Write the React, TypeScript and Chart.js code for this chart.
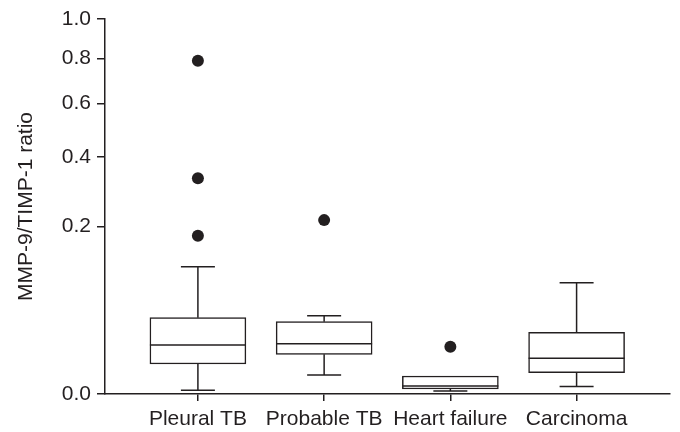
import React, { useEffect, useRef } from "react";
import { Chart, registerables, LinearScale } from "chart.js";

Chart.register(...registerables);

class SqrtScale extends LinearScale {
  static id = "sqrt";
  static defaults = LinearScale.defaults;
  getPixelForValue(value: number) {
    const s = Math.sqrt(Math.max(0, this.min));
    const e = Math.sqrt(Math.max(0, this.max));
    const v = Math.sqrt(Math.max(0, value));
    return this.getPixelForDecimal((v - s) / (e - s));
  }
  getValueForPixel(pixel: number) {
    const s = Math.sqrt(Math.max(0, this.min));
    const e = Math.sqrt(Math.max(0, this.max));
    const v = s + this.getDecimalForPixel(pixel) * (e - s);
    return v * v;
  }
}
Chart.register(SqrtScale as any);

const categories = ["Pleural TB", "Probable TB", "Heart failure", "Carcinoma"];
const whiskerLow = [0.0001, 0.0026, 0.00006, 0.0004];
const q1 = [0.0064, 0.0112, 0.00018, 0.0032];
const median = [0.0171, 0.018, 0.00046, 0.0091];
const q3 = [0.0414, 0.0372, 0.0023, 0.0271];
const whiskerHigh = [0.1152, 0.0436, 0.0023, 0.0881];
const outliersPleuralTB = [0.79, 0.331, 0.178];
const outliersProbableTB = [0.215];
const outliersHeartFailure = [0.0159];
const outliersCarcinoma: number[] = [];
const yTicks = [0, 0.2, 0.4, 0.6, 0.8, 1.0];

const INK = "#231f20";
const FONT = "'Liberation Sans', Arial, sans-serif";

const boxPlugin = {
  id: "boxWhiskers",
  afterDatasetsDraw(chart: any) {
    const xs = chart.scales.x;
    const ys = chart.scales.y;
    const meta = chart.getDatasetMeta(0);
    const ctx = chart.ctx;
    ctx.save();
    ctx.strokeStyle = INK;
    ctx.lineWidth = 1.5;
    const capHalf = 17;
    categories.forEach((_, i) => {
      const cx = xs.getPixelForValue(i + 1);
      const half = meta.data[i] ? meta.data[i].width / 2 : 48;
      const pHi = ys.getPixelForValue(whiskerHigh[i]);
      const pQ3 = ys.getPixelForValue(q3[i]);
      const pQ1 = ys.getPixelForValue(q1[i]);
      const pLo = ys.getPixelForValue(whiskerLow[i]);
      const pMed = ys.getPixelForValue(median[i]);
      ctx.beginPath();
      if (pQ3 - pHi > 0.5) {
        ctx.moveTo(cx, pHi);
        ctx.lineTo(cx, pQ3);
        ctx.moveTo(cx - capHalf, pHi);
        ctx.lineTo(cx + capHalf, pHi);
      }
      ctx.moveTo(cx, pQ1);
      ctx.lineTo(cx, pLo);
      ctx.moveTo(cx - capHalf, pLo);
      ctx.lineTo(cx + capHalf, pLo);
      ctx.moveTo(cx - half, pMed);
      ctx.lineTo(cx + half, pMed);
      ctx.stroke();
    });
    ctx.restore();
  },
};

export default function App() {
  const ref = useRef<HTMLCanvasElement>(null);
  useEffect(() => {
    document.body.style.margin = "0";
    const outliers = [outliersPleuralTB, outliersProbableTB, outliersHeartFailure, outliersCarcinoma];
    const outlierPoints: { x: number; y: number }[] = [];
    outliers.forEach((arr, i) => arr.forEach((v) => outlierPoints.push({ x: i + 1, y: v })));
    const chart = new Chart(ref.current!, {
      type: "bar",
      data: {
        datasets: [
          {
            type: "bar",
            data: categories.map((_, i) => ({ x: i + 1, y: [q1[i], q3[i]] })) as any,
            backgroundColor: "#ffffff",
            borderColor: INK,
            borderWidth: 1.5,
            borderSkipped: false,
            barThickness: 96,
          } as any,
          {
            type: "scatter",
            data: outlierPoints,
            pointRadius: 6,
            pointBackgroundColor: INK,
            pointBorderColor: INK,
            pointBorderWidth: 0,
          } as any,
        ],
      },
      options: {
        animation: false,
        responsive: false,
        maintainAspectRatio: false,
        layout: { padding: { top: 19, right: 10, bottom: 0, left: 0 } },
        plugins: { legend: { display: false }, tooltip: { enabled: false } },
        scales: {
          x: {
            type: "linear",
            min: 0.264,
            max: 4.74,
            offset: false,
            afterBuildTicks: (s: any) => {
              s.ticks = categories.map((_, i) => ({ value: i + 1 }));
            },
            afterFit: (s: any) => {
              s.height = 38;
            },
            ticks: {
              autoSkip: false,
              maxRotation: 0,
              padding: 6,
              color: INK,
              font: { family: FONT, size: 21 },
              callback: (v: any) => categories[Math.round(Number(v)) - 1] ?? "",
            },
            grid: { offset: false, drawOnChartArea: false, drawTicks: true, tickLength: 7, color: INK, lineWidth: 1.5 },
            border: { color: INK, width: 1.5 },
          },
          y: {
            type: "sqrt" as any,
            min: 0,
            max: 1,
            afterBuildTicks: (s: any) => {
              s.ticks = yTicks.map((v) => ({ value: v }));
            },
            afterFit: (s: any) => {
              s.width = 105;
            },
            ticks: {
              padding: 6,
              color: INK,
              font: { family: FONT, size: 21 },
              callback: (v: any) => Number(v).toFixed(1),
            },
            title: {
              display: true,
              text: "MMP-9/TIMP-1 ratio",
              color: INK,
              font: { family: FONT, size: 21 },
              padding: { top: 14, bottom: 4 },
            },
            grid: { drawOnChartArea: false, drawTicks: true, tickLength: 8, color: INK, lineWidth: 1.5 },
            border: { color: INK, width: 1.5 },
          } as any,
        },
      } as any,
      plugins: [boxPlugin],
    });
    return () => chart.destroy();
  }, []);
  return (
    <div style={{ width: 680, height: 432 }}>
      <canvas ref={ref} width={680} height={432} style={{ display: "block" }} />
    </div>
  );
}
